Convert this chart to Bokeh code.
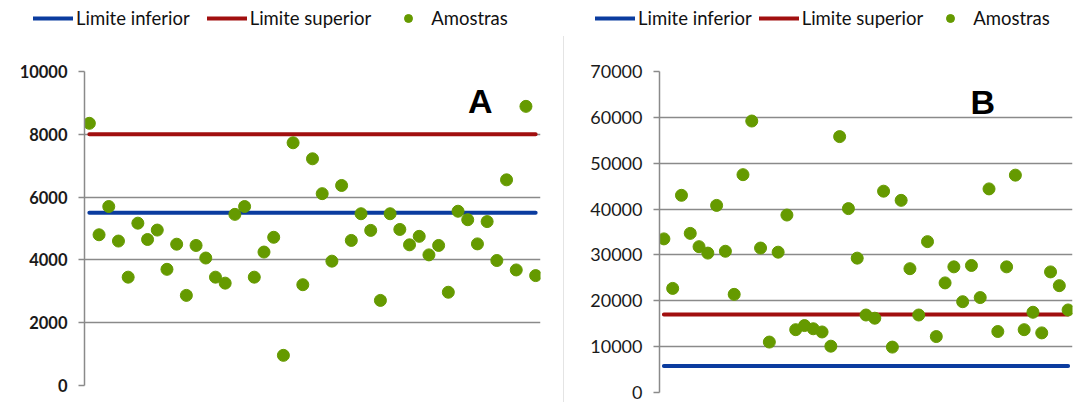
from bokeh.plotting import figure
from bokeh.layouts import row, column
from bokeh.models import Legend, LegendItem, Label, FixedTicker, ColumnDataSource
from bokeh.embed import file_html
from bokeh.resources import INLINE

# ---------------- data ----------------
legend_labels = ["Limite inferior", "Limite superior", "Amostras"]

a_samples = [8350, 4800, 5700, 4600, 3450, 5170, 4650, 4950, 3700, 4500,
             2870, 4460, 4060, 3450, 3260, 5450, 5700, 3450, 4250, 4720,
             960, 7730, 3210, 7220, 6110, 3960, 6370, 4620, 5470, 4940,
             2710, 5470, 4970, 4480, 4750, 4160, 4460, 2970, 5550, 5280,
             4510, 5220, 3980, 6550, 3680, 8890, 3500]
a_lower = 5500
a_upper = 8000
a_ticks = [0, 2000, 4000, 6000, 8000, 10000]

b_samples = [33500, 22700, 43000, 34700, 31800, 30400, 40800, 30800, 21400, 47500,
             59200, 31500, 11000, 30600, 38700, 13700, 14600, 13900, 13200, 10100,
             55800, 40100, 29300, 16900, 16200, 43900, 9900, 41900, 27000, 16900,
             32900, 12200, 23900, 27400, 19800, 27700, 20700, 44400, 13300, 27400,
             47400, 13700, 17500, 13000, 26300, 23300, 18000]
b_lower = 5800
b_upper = 17000
b_ticks = [0, 10000, 20000, 30000, 40000, 50000, 60000, 70000]

panel_names = ["A", "B"]

# ---------------- style ----------------
BLUE = "#0b3c9f"
RED = "#a10f0f"
GREEN = "#659a00"
GRID = "#8a8a8a"
FONT = "Lato"


def add_series(p, samples, lower, upper):
    n = len(samples)
    src = ColumnDataSource(dict(x=list(range(n)), s=samples,
                                lo=[lower] * n, up=[upper] * n))
    r_lo = p.line("x", "lo", source=src, line_color=BLUE, line_width=4, line_cap="round")
    r_up = p.line("x", "up", source=src, line_color=RED, line_width=4, line_cap="round")
    r_s = p.scatter("x", "s", source=src, marker="circle", size=12,
                    fill_color=GREEN, line_color=GREEN)
    return r_lo, r_up, r_s


def make_legend(renderers, loc, spacing):
    return Legend(items=[LegendItem(label=lab, renderers=[r])
                         for lab, r in zip(legend_labels, renderers)],
                  orientation="horizontal", location=loc,
                  glyph_width=40, glyph_height=20, label_standoff=3,
                  spacing=spacing, padding=0, margin=0,
                  border_line_color=None, background_fill_alpha=0,
                  label_text_font=FONT, label_text_font_size="18.5px",
                  label_text_color="#111111")


def make_panel(samples, lower, upper, ticks, name, fw, fh, bl, br, bt, bb,
               tick_font_size, tick_bold, label_pos, label_size):
    n = len(samples)
    p = figure(frame_width=fw, frame_height=fh,
               x_range=(-0.5, n - 0.5), y_range=(ticks[0], ticks[-1]),
               x_axis_type=None, output_backend="svg", toolbar_location=None,
               min_border_left=bl, min_border_right=br,
               min_border_top=bt, min_border_bottom=bb)
    p.outline_line_color = None
    p.background_fill_color = "white"
    p.border_fill_color = "white"

    ax = p.yaxis[0]
    ax.ticker = FixedTicker(ticks=ticks)
    ax.axis_line_color = GRID
    ax.axis_line_width = 1.5
    ax.major_tick_line_color = GRID
    ax.major_tick_line_width = 1.5
    ax.major_tick_in = 0
    ax.major_tick_out = 6
    ax.minor_tick_line_color = None
    ax.major_label_standoff = 11
    ax.major_label_text_font = FONT
    ax.major_label_text_font_size = tick_font_size
    ax.major_label_text_font_style = "bold" if tick_bold else "normal"
    ax.major_label_text_color = "#1a1a1a"

    p.ygrid.ticker = FixedTicker(ticks=ticks)
    p.ygrid.grid_line_color = GRID
    p.ygrid.grid_line_width = 1.5

    add_series(p, samples, lower, upper)

    p.add_layout(Label(x=label_pos[0], y=label_pos[1], text=name,
                       text_align="center", text_baseline="middle",
                       text_font="Liberation Sans", text_font_style="bold",
                       text_font_size=label_size, text_color="black"))
    return p


LEG_H = 36
A_W = 563
B_W = 510

# legend strip across both panels; its ranges keep the series themselves out of view
n_pts = len(a_samples)
strip = figure(width=A_W + B_W, height=LEG_H, x_range=(-0.5, n_pts - 0.5),
               y_range=(b_ticks[-1] * 10, b_ticks[-1] * 11),
               x_axis_type=None, y_axis_type=None, output_backend="svg",
               toolbar_location=None, min_border=0)
strip.outline_line_color = None
strip.grid.visible = False
rend_a = add_series(strip, a_samples, a_lower, a_upper)
rend_b = add_series(strip, b_samples, b_lower, b_upper)
strip.add_layout(make_legend(rend_a, (33, 7), 17), "center")
strip.add_layout(make_legend(rend_b, (A_W + 32, 7), 7), "center")

pa = make_panel(a_samples, a_lower, a_upper, a_ticks, panel_names[0],
                fw=456, fh=314, bl=84, br=23, bt=71 - LEG_H, bb=10,
                tick_font_size="16.5px", tick_bold=True,
                label_pos=(40.3, 9076), label_size="34px")

pb = make_panel(b_samples, b_lower, b_upper, b_ticks, panel_names[1],
                fw=412, fh=321, bl=95, br=3, bt=71 - LEG_H, bb=10,
                tick_font_size="18px", tick_bold=False,
                label_pos=(36.3, 63300), label_size="34px")
pb.styles = {"border-left": "1px solid #e4e4e4"}

layout = column(strip, row(pa, pb))
open("out.html", "w").write(file_html(layout, INLINE))
